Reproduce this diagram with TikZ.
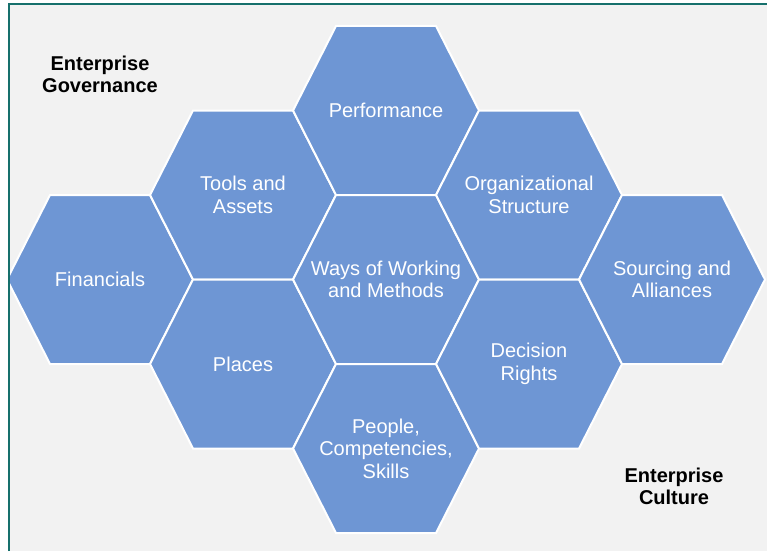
\documentclass[tikz,border=0pt]{standalone}
\usepackage{fontspec}
\setmainfont{Liberation Sans}
\definecolor{hexBlue}{RGB}{110,150,212}
\definecolor{frameTeal}{RGB}{22,112,108}
\definecolor{paperGray}{RGB}{242,242,242}

\begin{document}
\begin{tikzpicture}
[x=1pt,y=-1pt,
  hexDecorate/.style={fill=hexBlue,draw=white,line width=2pt,line join=miter},%
  labelDecorate/.style={text=white,align=center,inner sep=0pt,font=\fontsize{20}{22.5}\selectfont},%
  captionDecorate/.style={text=black,align=center,inner sep=0pt,font=\bfseries\fontsize{20}{22}\selectfont}]
\useasboundingbox (0,0) rectangle (767,551);
%% canvas
\fill[white] (0,0) rectangle (767,551);
\fill[paperGray] (9,4) rectangle (767,551);
%% honeycomb cells
\foreach \nodename/\x/\y/\caption in {
  fin/100/279.5/Financials, tools/243/195/{Tools and\\Assets},
  places/243/364/Places, perf/386/110.5/Performance,
  ways/386/279.5/{Ways of Working\\and Methods},
  people/386/448.5/{People,\\Competencies,\\Skills},
  org/529/195/{Organizational\\Structure}, rights/529/364/{Decision\\Rights},
  src/672/279.5/{Sourcing and\\Alliances}}
{
  \filldraw[hexDecorate] (\x-93,\y) -- (\x-50,\y-84.5) -- (\x+50,\y-84.5)
    -- (\x+93,\y) -- (\x+50,\y+84.5) -- (\x-50,\y+84.5) -- cycle;
  \node (\nodename) at (\x,\y) [labelDecorate] {\caption};
}
%% outer labels
\node (gov) at (100,74) [captionDecorate] {Enterprise\\Governance};
\node (cult) at (674,486) [captionDecorate] {Enterprise\\Culture};
%% frame
\draw[frameTeal,line width=2.2pt] (9,551) -- (9,4) -- (767,4);
\end{tikzpicture}
\end{document}
